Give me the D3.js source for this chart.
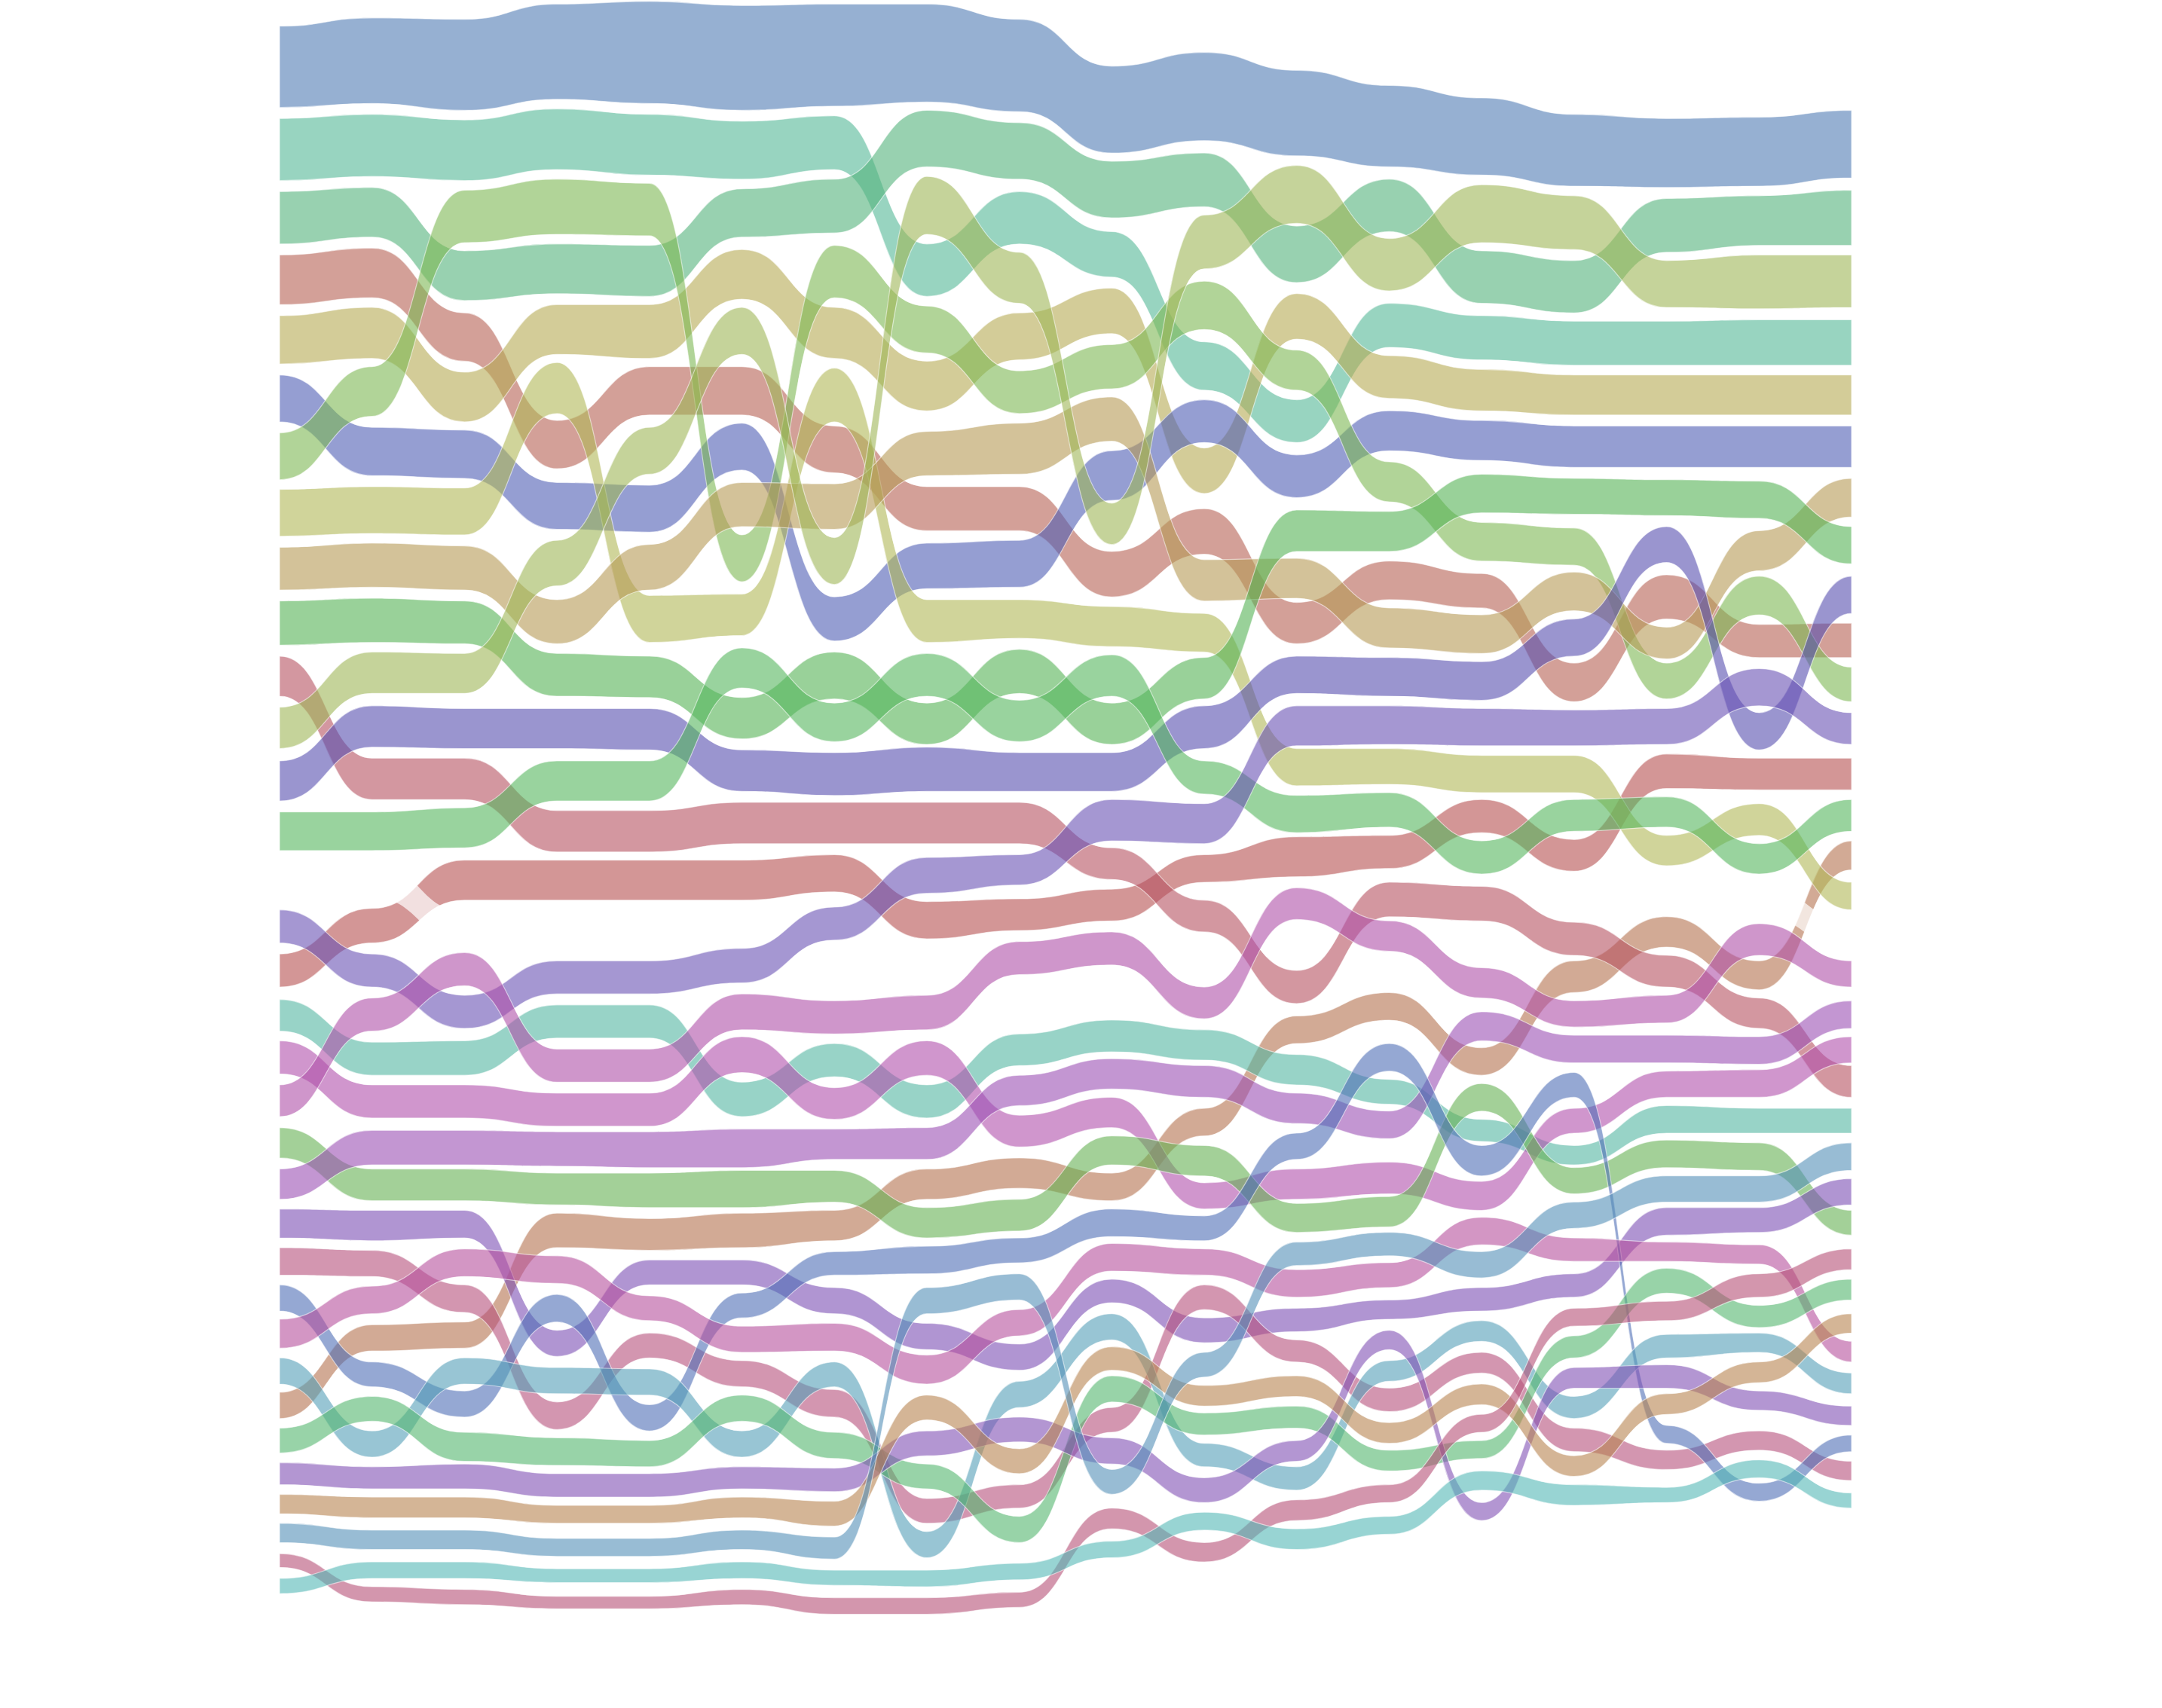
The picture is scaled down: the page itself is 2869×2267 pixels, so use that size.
<!DOCTYPE html>
<html><head><meta charset="utf-8">
<script src="https://cdn.jsdelivr.net/npm/d3@7"></script>
<style>html,body{margin:0;padding:0;background:#fff;}</style>
</head><body>
<svg id="chart"></svg>
<script>
// ---- data: 18 periods, each series = [top, bottom] of its band in rank space ----
const periods = ["p01","p02","p03","p04","p05","p06","p07","p08","p09","p10","p11","p12","p13","p14","p15","p16","p17","p18"];

const A1 = [[19,78],[13,75],[14,80],[3,72],[1,75],[4,80],[3,77],[3,74],[14,81],[48,111],[38,102],[51,113],[62,121],[71,127],[83,135],[86,136],[85,135],[80,129]];
const A2 = [[86,131],[83,128],[87,131],[79,123],[83,127],[88,130],[84,123],[177,215],[139,177],[168,201],[248,283],[290,321],[220,252],[229,261],[233,265],[233,265],[232,265],[232,265]];
const A3 = [[139,177],[136,172],[182,218],[177,213],[178,215],[137,172],[130,169],[80,121],[89,130],[117,158],[111,150],[164,205],[130,168],[182,220],[189,227],[144,183],[142,178],[138,178]];
const A4 = [[185,221],[180,216],[227,262],[305,340],[266,301],[266,301],[309,343],[353,385],[353,385],[400,433],[369,402],[437,467],[407,435],[416,441],[481,509],[417,449],[453,477],[452,477]];
const A5 = [[229,264],[223,260],[270,306],[221,257],[221,260],[181,217],[223,260],[262,298],[227,261],[209,242],[325,358],[213,246],[258,289],[268,298],[272,301],[272,301],[272,301],[272,301]];
const A6 = [[272,306],[310,345],[312,347],[350,384],[352,386],[307,341],[433,465],[394,427],[392,426],[327,363],[290,321],[330,361],[298,327],[305,334],[309,339],[309,339],[309,339],[309,339]];
const A7 = [[314,348],[266,302],[138,176],[130,170],[133,171],[388,422],[178,216],[222,256],[269,300],[250,282],[204,239],[254,283],[335,364],[379,407],[383,410],[481,507],[418,446],[484,509]];
const A8 = [[355,389],[353,387],[354,388],[263,300],[432,466],[431,461],[267,306],[435,466],[435,463],[440,469],[445,473],[543,570],[543,569],[548,575],[548,575],[606,628],[583,606],[640,660]];
const A9 = [[397,428],[394,426],[396,428],[435,467],[395,428],[350,382],[351,384],[313,345],[307,344],[288,320],[406,436],[405,434],[441,470],[446,474],[415,443],[455,478],[385,414],[347,375]];
const A10 = [[436,468],[434,466],[436,467],[474,505],[476,506],[506,536],[473,507],[510,540],[471,503],[510,540],[477,507],[370,400],[371,400],[344,372],[347,373],[348,374],[349,376],[382,409]];
const A11 = [[476,505],[550,580],[550,580],[588,618],[588,618],[582,612],[582,612],[582,612],[582,612],[615,638],[653,676],[704,728],[640,665],[643,668],[669,693],[693,716],[724,746],[773,796]];
const A12 = [[513,543],[473,503],[474,503],[392,425],[310,344],[223,257],[390,424],[128,170],[183,220],[365,395],[156,195],[120,162],[173,211],[134,176],[142,181],[189,223],[185,224],[185,223]];
const A13 = [[552,581],[512,542],[514,543],[514,543],[514,544],[544,574],[546,577],[542,574],[546,574],[546,574],[512,543],[476,503],[477,505],[480,508],[449,476],[382,408],[517,544],[418,445]];
const A14 = [[589,617],[589,617],[586,615],[552,581],[552,581],[470,499],[510,538],[474,505],[508,538],[475,505],[552,576],[577,604],[575,600],[610,634],[580,603],[578,600],[612,634],[580,603]];
const HX = [[625,652],[625,651],[661,683],[661,689],[661,689],[661,680],[690,718],[689,714],[715,742],[707,733],[684,708],[675,697],[697,714],[675,696],[640,661],[636,659],[642,664],[668,689]];
const B1 = [[660,684],[692,716],[722,746],[697,721],[697,721],[688,713],[658,682],[622,648],[620,642],[580,610],[583,612],[512,541],[512,540],[514,541],[515,541],[514,540],[485,512],[517,540]];
const B2 = [[692,716],[659,684],[624,653],[624,653],[624,653],[624,653],[620,647],[654,681],[652,675],[645,668],[620,640],[607,636],[606,630],[580,604],[609,632],[547,572],[550,573],[550,573]];
const B3 = [[725,748],[756,780],[755,780],[729,753],[729,753],[785,810],[757,781],[787,811],[750,773],[740,763],[747,769],[765,787],[783,801],[812,828],[831,845],[802,822],[804,822],[804,822]];
const B4 = [[755,779],[787,811],[787,811],[793,817],[793,817],[752,778],[789,812],[755,780],[809,832],[796,818],[858,877],[848,870],[843,866],[857,878],[804,822],[777,796],[776,796],[752,771]];
const B5 = [[787,810],[724,748],[691,715],[761,785],[761,785],[721,747],[726,750],[722,747],[683,707],[676,700],[716,739],[644,667],[668,690],[702,724],[726,745],[722,742],[670,693],[697,716]];
const B6 = [[818,840],[848,871],[848,871],[851,874],[851,876],[849,876],[849,872],[876,898],[870,893],[824,845],[831,853],[873,894],[868,890],[786,806],[847,866],[827,847],[829,849],[878,896]];
const B7 = [[848,870],[820,845],[820,845],[821,846],[821,847],[819,847],[819,841],[818,841],[780,802],[768,790],[773,796],[793,815],[806,826],[734,755],[751,771],[751,771],[752,772],[726,746]];
const B8 = [[877,898],[878,900],[878,898],[965,984],[914,932],[914,932],[934,953],[960,979],[975,994],[928,945],[956,974],[949,966],[943,957],[934,951],[924,941],[876,896],[876,894],[855,874]];
const B9 = [[905,925],[907,926],[932,952],[1017,1037],[967,985],[987,1006],[1008,1028],[1087,1105],[1077,1094],[1021,1039],[932,950],[972,988],[1007,1024],[981,996],[1036,1053],[1052,1066],[1038,1052],[1060,1074]];
const B10 = [[932,951],[988,1006],[1009,1028],[939,959],[1019,1038],[938,956],[908,925],[904,924],[898,916],[877,897],[882,900],[822,841],[757,777],[831,853],[778,796],[1034,1047],[1076,1089],[1041,1053]];
const B11 = [[957,978],[933,953],[906,926],[911,931],[940,958],[962,981],[960,980],[983,1004],[950,969],[902,922],[906,925],[921,941],[916,934],[883,903],[898,915],[901,915],[903,917],[973,988]];
const B12 = [[985,1004],[1038,1057],[985,1004],[992,1011],[993,1012],[1038,1057],[988,1006],[1111,1130],[1002,1021],[953,972],[1047,1064],[1064,1081],[987,1002],[958,973],[1013,1029],[968,985],[967,981],[996,1011]];
const B13 = [[1010,1029],[961,980],[959,978],[880,905],[884,907],[880,905],[878,900],[848,870],[840,862],[851,871],[804,824],[737,757],[720,740],[760,780],[697,720],[665,687],[697,718],[610,631]];
const B14 = [[1036,1054],[1013,1031],[1039,1060],[1043,1063],[1045,1064],[1012,1031],[1039,1058],[1062,1080],[1100,1119],[998,1017],[1025,1041],[1020,1036],[1052,1067],[1045,1058],[969,985],[920,938],[947,963],[928,943]];
const B15 = [[1061,1077],[1064,1080],[1062,1080],[1069,1086],[1069,1086],[1064,1080],[1065,1082],[1038,1056],[1028,1046],[1043,1062],[1072,1090],[1045,1060],[965,979],[1090,1103],[992,1007],[990,1007],[1009,1023],[1020,1034]];
const B16 = [[1084,1098],[1086,1101],[1086,1101],[1092,1105],[1092,1105],[1086,1101],[1089,1107],[1012,1030],[1051,1069],[977,994],[1005,1020],[998,1013],[1032,1047],[1004,1019],[1056,1071],[1011,1026],[988,1003],[953,967]];
const B17 = [[1105,1119],[1110,1124],[1110,1124],[1116,1129],[1116,1129],[1110,1124],[1115,1131],[934,953],[924,943],[1066,1084],[981,999],[901,918],[894,911],[908,927],[872,891],[853,872],[853,872],[829,849]];
const B18 = [[1127,1137],[1151,1162],[1153,1164],[1158,1167],[1158,1167],[1153,1164],[1159,1171],[1159,1171],[1155,1166],[1094,1109],[1119,1133],[1088,1103],[1077,1090],[1026,1039],[949,962],[944,958],[924,941],[906,921]];
const B19 = [[1145,1156],[1133,1145],[1133,1145],[1138,1148],[1138,1148],[1133,1145],[1139,1150],[1139,1151],[1134,1146],[1118,1130],[1097,1110],[1109,1124],[1100,1113],[1067,1081],[1077,1092],[1079,1090],[1059,1072],[1083,1094]];

const seriesIds = ["A1","A2","A3","A4","A5","A6","A7","A8","A9","A10","A11","A12","A13","A14","HX",
  "B1","B2","B3","B4","B5","B6","B7","B8","B9","B10","B11","B12","B13","B14","B15","B16","B17","B18","B19"];
const palette = ["#507bb4","#53b796","#53b27b","#b66153","#b6aa53","#4e5db4","#7db753","#b1b757","#b69955","#55b255","#b65261","#9eb657","#574eaf","#55b65d","#ffffff",
  "#6952b4","#b65050","#53b6a2","#b150ac","#af50a9","#66b153","#9b50b4","#7b4eb4","#b6507b","#4e6eb6","#b6509d","#539eb7","#b4714e","#53b66e","#8050b4","#b78450","#538fb7","#b65076","#53b7b6"];
// series painted under the pale separator band
const underSeparator = ["B2","B13"];

// ---- build ----
const table = {A1,A2,A3,A4,A5,A6,A7,A8,A9,A10,A11,A12,A13,A14,HX,B1,B2,B3,B4,B5,B6,B7,B8,B9,B10,B11,B12,B13,B14,B15,B16,B17,B18,B19};
const W = 2869, Hh = 2267;
const svg = d3.select("#chart").attr("width", W).attr("height", Hh);
svg.append("rect").attr("width", W).attr("height", Hh).attr("fill", "#fff");

const x = d3.scalePoint().domain(periods).range([371, 2457]);
const y = d3.scaleLinear().domain([0, 1239]).range([0, Hh]);
const color = d3.scaleOrdinal().domain(seriesIds).range(palette);

const area = d3.area()
  .x((d, i) => x(periods[i]))
  .y0(d => y(d[0]))
  .y1(d => y(d[1]))
  .curve(d3.curveBumpX);

const rest = seriesIds.filter(s => s !== "HX" && !underSeparator.includes(s));
const drawOrder = [...underSeparator, "HX", ...rest];

svg.append("g").selectAll("path")
  .data(drawOrder)
  .join("path")
  .attr("d", s => area(table[s]))
  .attr("fill", s => color(s))
  .attr("fill-opacity", s => s === "HX" ? 0.7 : 0.6)
  .attr("stroke", s => s === "HX" ? "none" : "#fff")
  .attr("stroke-opacity", 0.55)
  .attr("stroke-width", 1.2);
</script>
</body></html>
